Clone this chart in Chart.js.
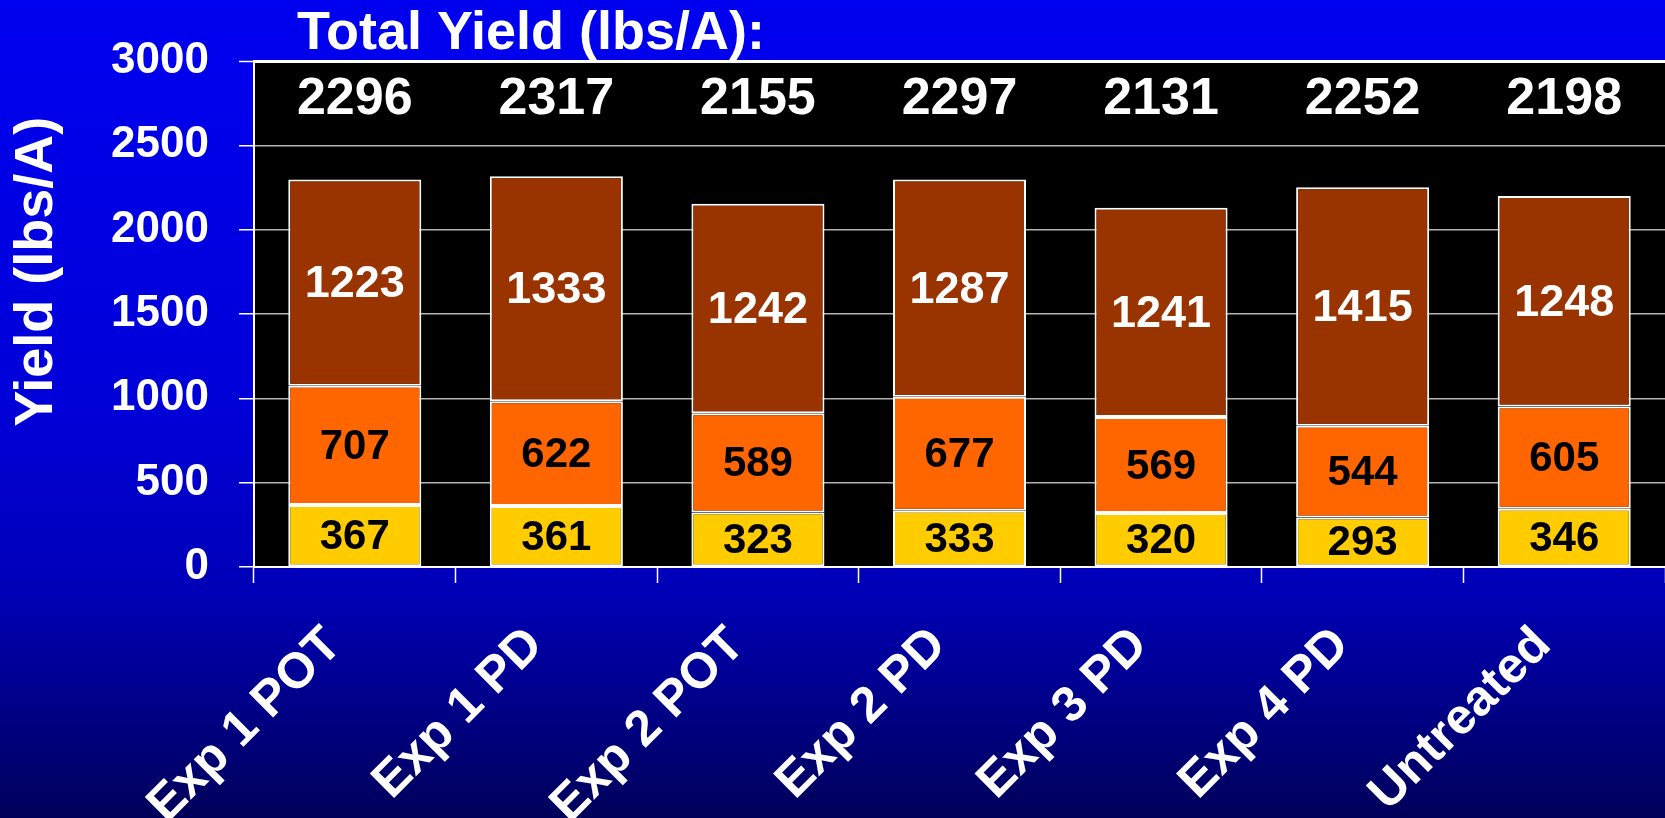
<!DOCTYPE html>
<html lang="en">
<head>
<meta charset="UTF-8" />
<title>Total Yield</title>
<script src="https://cdn.jsdelivr.net/npm/chart.js@4.4.0/dist/chart.umd.min.js"></script>
<style>
  body { margin: 0; background: #000080; }
  #wrap { width: 1665px; height: 818px; }
</style>
</head>
<body>
<div id="wrap"><canvas id="chart"></canvas></div>

<script>
const categories = ['Exp 1 POT', 'Exp 1 PD', 'Exp 2 POT', 'Exp 2 PD', 'Exp 3 PD', 'Exp 4 PD', 'Untreated'];
const yellowVals = [367, 361, 323, 333, 320, 293, 346];
const orangeVals = [707, 622, 589, 677, 569, 544, 605];
const brownVals = [1223, 1333, 1242, 1287, 1241, 1415, 1248];
const totals = [2296, 2317, 2155, 2297, 2131, 2252, 2198];
const titleText = 'Total Yield (lbs/A):';
const yTitle = 'Yield (lbs/A)';

const FONT = '"Liberation Sans", Arial, sans-serif';

// blue gradient page + black plot area
const bgPlugin = {
  id: 'bg',
  beforeDraw(chart) {
    const { ctx, width, height, chartArea: a } = chart;
    const g = ctx.createLinearGradient(0, 0, 0, height);
    g.addColorStop(0, '#0000f0');
    g.addColorStop(0.5, '#0000d8');
    g.addColorStop(0.72, '#0000b8');
    g.addColorStop(1, '#00005a');
    ctx.save();
    ctx.fillStyle = g;
    ctx.fillRect(0, 0, width, height);
    ctx.fillStyle = '#000';
    ctx.fillRect(a.left, a.top, a.right - a.left, a.bottom - a.top);
    ctx.restore();
  }
};

// numbers inside the bars, totals row, heading and y title
const labelPlugin = {
  id: 'labels',
  afterDatasetsDraw(chart) {
    const ctx = chart.ctx;
    ctx.save();
    ctx.textAlign = 'center';
    ctx.textBaseline = 'middle';
    chart.data.datasets.forEach((ds, di) => {
      const meta = chart.getDatasetMeta(di);
      ctx.font = 'bold ' + ds.labelSize + 'px ' + FONT;
      ctx.fillStyle = ds.labelColor;
      meta.data.forEach((bar, i) => {
        ctx.fillText(ds.data[i], bar.x, (bar.y + bar.base) / 2 + 2);
      });
    });

    ctx.font = 'bold 52px ' + FONT;
    ctx.fillStyle = '#fff';
    const ty = chart.scales.y.getPixelForValue(2770);
    totals.forEach((t, i) => {
      ctx.fillText(t, chart.scales.x.getPixelForValue(i), ty);
    });

    ctx.font = 'bold 54px ' + FONT;
    ctx.textAlign = 'left';
    ctx.fillText(titleText, chart.chartArea.left + 43, 34);

    // rotated axis title, sits a bit above the plot centre like the original
    ctx.textAlign = 'center';
    ctx.translate(37, chart.scales.y.getPixelForValue(1750));
    ctx.rotate(-Math.PI / 2);
    ctx.fillText(yTitle, 0, 0);
    ctx.restore();
  }
};

const ctx = document.getElementById('chart').getContext('2d');

const myChart = new Chart(ctx, {
  type: 'bar',
  data: {
    labels: categories,
    datasets: [
      { data: yellowVals, backgroundColor: '#ffcc00', labelColor: '#000', labelSize: 42 },
      { data: orangeVals, backgroundColor: '#ff6600', labelColor: '#000', labelSize: 42 },
      { data: brownVals, backgroundColor: '#993300', labelColor: '#fff', labelSize: 45 }
    ]
  },
  options: {
    responsive: true,
    maintainAspectRatio: false,
    animation: false,
    layout: { padding: { top: 61, right: -7, left: 0, bottom: 0 } },
    datasets: {
      bar: {
        borderColor: '#ffffff',
        borderWidth: 2,
        borderSkipped: false,
        barPercentage: 0.66,
        categoryPercentage: 1
      }
    },
    plugins: {
      legend: { display: false },
      tooltip: { enabled: false }
    },
    scales: {
      x: {
        stacked: true,
        afterFit: (scale) => { scale.height = 251; },
        border: { color: '#ffffff', width: 2 },
        grid: {
          offset: true,
          drawOnChartArea: false,
          drawTicks: true,
          tickLength: 16,
          tickColor: '#ffffff',
          tickWidth: 1.5
        },
        ticks: {
          color: '#ffffff',
          minRotation: 45,
          maxRotation: 45,
          padding: 33,
          labelOffset: -21,
          font: { family: FONT, size: 50, weight: 'bold' }
        }
      },
      y: {
        stacked: true,
        min: 0,
        max: 3000,
        afterFit: (scale) => { scale.width = 254; },
        border: { color: '#ffffff', width: 2 },
        grid: {
          color: (c) => c.tick && c.tick.value === 3000 ? '#ffffff' : '#b4b4b4',
          lineWidth: (c) => c.tick && c.tick.value === 3000 ? 3 : 1.5,
          tickColor: '#ffffff',
          tickLength: 15,
          tickWidth: 1.5
        },
        ticks: {
          stepSize: 500,
          color: '#ffffff',
          padding: 30,
          callback: (v) => String(v),
          font: { family: FONT, size: 44, weight: 'bold' }
        }
      }
    }
  },
  plugins: [bgPlugin, labelPlugin]
});
</script>
</body>
</html>
